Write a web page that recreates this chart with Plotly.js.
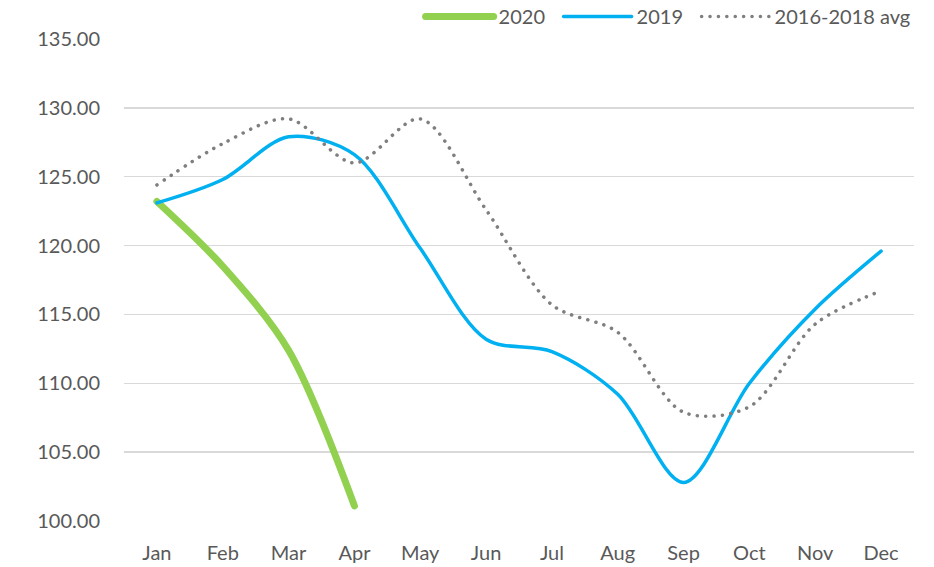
<!DOCTYPE html>
<html>
<head>
<meta charset="utf-8">
<script src="https://cdn.plot.ly/plotly-3.0.1.min.js"></script>
<style>
html,body{margin:0;padding:0;background:#fff;}
#chart{width:934px;height:567px;}
.scatterlayer path.js-line, .legend path.js-line {stroke-linecap: round;}
</style>
</head>
<body>
<div id="chart"></div>
<script>
const months = ['Jan','Feb','Mar','Apr','May','Jun','Jul','Aug','Sep','Oct','Nov','Dec'];
const values2020 = [123.2, 118.5, 112.4, 101.1];
const values2019 = [123.1, 124.8, 127.9, 126.6, 119.8, 113.2, 112.3, 109.2, 102.8, 110.0, 115.4, 119.6];
const valuesAvg = [124.4, 127.4, 129.2, 126.0, 129.2, 122.6, 115.7, 113.7, 107.9, 108.3, 114.3, 116.7];
const yTicks = [100, 105, 110, 115, 120, 125, 130, 135];

const traces = [
  {x: months.slice(0, values2020.length), y: values2020, name: '2020', type: 'scatter', mode: 'lines',
   line: {color: '#92d050', width: 7, shape: 'spline', smoothing: 0.9}},
  {x: months, y: values2019, name: '2019', type: 'scatter', mode: 'lines',
   line: {color: '#00b0f0', width: 3.5, shape: 'spline', smoothing: 0.9}},
  {x: months, y: valuesAvg, name: '2016-2018 avg', type: 'scatter', mode: 'lines',
   line: {color: '#7f7f7f', width: 3.5, shape: 'spline', smoothing: 0.9, dash: '0.1px,8.3px'}}
];

const layout = {
  width: 934, height: 567,
  margin: {l: 124, r: 20, t: 37, b: 46},
  paper_bgcolor: '#fff', plot_bgcolor: '#fff',
  font: {family: 'Lato, "Open Sans", sans-serif', size: 20, color: '#595959'},
  showlegend: true,
  legend: {orientation: 'h', xref: 'container', yref: 'container', x: 0.4503, xanchor: 'left', y: 1, yanchor: 'top',
           font: {size: 20, color: '#595959'}, itemwidth: 68, entrywidth: 55, entrywidthmode: 'pixels',
           traceorder: 'normal'},
  xaxis: {type: 'category', categoryarray: months, range: [-0.5, 11.5], showgrid: false,
          zeroline: false, showline: false, ticks: '', ticklabelstandoff: 18, fixedrange: true},
  yaxis: {range: [100, 135], tickvals: yTicks, ticktext: yTicks.map(v => v.toFixed(2)),
          showgrid: true, gridcolor: '#d9d9d9', gridwidth: 1.5, zeroline: false, showline: false,
          ticks: '', ticklabelstandoff: 23, fixedrange: true}
};

Plotly.newPlot('chart', traces, layout, {displayModeBar: false, staticPlot: true}).then(gd => {
  gd.querySelectorAll('.legend .traces path.js-line').forEach(p => p.setAttribute('d', 'M5,0h68'));
  const leg = gd.querySelector('g.legend');
  if (leg) {
    const m = /translate\(\s*([-\d.e]+)[ ,]+([-\d.e]+)\s*\)/.exec(leg.getAttribute('transform') || '');
    if (m) leg.setAttribute('transform', 'translate(' + (+m[1]) + ',' + (+m[2] - 3) + ')');
    leg.querySelectorAll('[clip-path]').forEach(el => el.removeAttribute('clip-path'));
  }
});
</script>
</body>
</html>
